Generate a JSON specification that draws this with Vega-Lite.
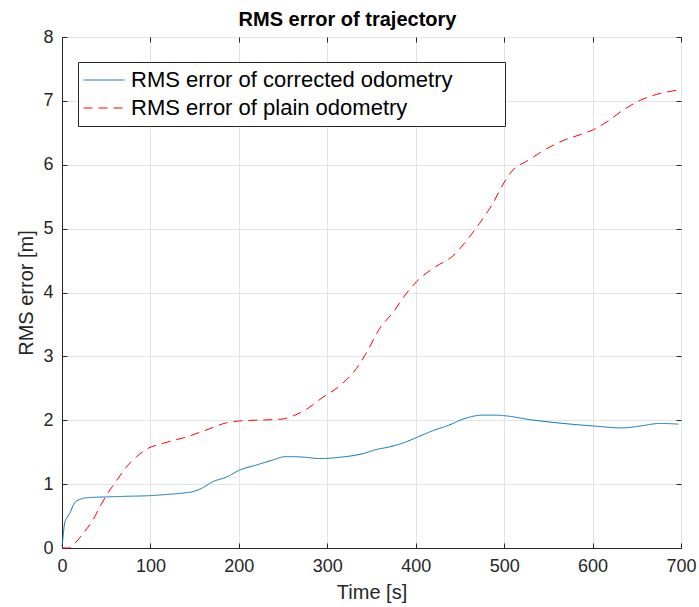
{
  "$schema": "https://vega.github.io/schema/vega-lite/v6.json",
  "autosize": "none",
  "width": 619,
  "height": 511,
  "padding": {"left": 62, "top": 37, "right": 18, "bottom": 59},
  "background": "white",
  "title": {"text": "RMS error of trajectory", "font": "Liberation Sans", "fontSize": 20, "fontWeight": "bold", "color": "black", "anchor": "middle", "dx": -24, "offset": -2},
  "config": {
    "font": "Liberation Sans",
    "view": {"stroke": "#262626", "strokeWidth": 1},
    "axis": {"labelFont": "Liberation Sans", "titleFont": "Liberation Sans", "labelFontSize": 18, "titleFontSize": 20, "titleFontWeight": "normal", "labelColor": "#262626", "titleColor": "#262626", "domainColor": "#262626", "tickColor": "#262626", "gridColor": "#e3e3e3", "gridOpacity": 1, "tickSize": -5, "labelFlush": false}
  },
  "data": {"values": [
    {"t": 0, "rms": 0.03, "series": "RMS error of corrected odometry"},
    {"t": 1, "rms": 0.15, "series": "RMS error of corrected odometry"},
    {"t": 3, "rms": 0.39, "series": "RMS error of corrected odometry"},
    {"t": 6, "rms": 0.48, "series": "RMS error of corrected odometry"},
    {"t": 9, "rms": 0.55, "series": "RMS error of corrected odometry"},
    {"t": 12.8, "rms": 0.67, "series": "RMS error of corrected odometry"},
    {"t": 15, "rms": 0.72, "series": "RMS error of corrected odometry"},
    {"t": 18.5, "rms": 0.75, "series": "RMS error of corrected odometry"},
    {"t": 25, "rms": 0.78, "series": "RMS error of corrected odometry"},
    {"t": 31.7, "rms": 0.79, "series": "RMS error of corrected odometry"},
    {"t": 50, "rms": 0.8, "series": "RMS error of corrected odometry"},
    {"t": 75, "rms": 0.81, "series": "RMS error of corrected odometry"},
    {"t": 100, "rms": 0.82, "series": "RMS error of corrected odometry"},
    {"t": 120, "rms": 0.84, "series": "RMS error of corrected odometry"},
    {"t": 137, "rms": 0.86, "series": "RMS error of corrected odometry"},
    {"t": 150, "rms": 0.89, "series": "RMS error of corrected odometry"},
    {"t": 160, "rms": 0.95, "series": "RMS error of corrected odometry"},
    {"t": 171, "rms": 1.04, "series": "RMS error of corrected odometry"},
    {"t": 186, "rms": 1.11, "series": "RMS error of corrected odometry"},
    {"t": 201, "rms": 1.22, "series": "RMS error of corrected odometry"},
    {"t": 220, "rms": 1.3, "series": "RMS error of corrected odometry"},
    {"t": 239, "rms": 1.38, "series": "RMS error of corrected odometry"},
    {"t": 252, "rms": 1.43, "series": "RMS error of corrected odometry"},
    {"t": 262, "rms": 1.43, "series": "RMS error of corrected odometry"},
    {"t": 275, "rms": 1.42, "series": "RMS error of corrected odometry"},
    {"t": 292, "rms": 1.4, "series": "RMS error of corrected odometry"},
    {"t": 314, "rms": 1.42, "series": "RMS error of corrected odometry"},
    {"t": 341, "rms": 1.48, "series": "RMS error of corrected odometry"},
    {"t": 355, "rms": 1.54, "series": "RMS error of corrected odometry"},
    {"t": 371, "rms": 1.585, "series": "RMS error of corrected odometry"},
    {"t": 385, "rms": 1.64, "series": "RMS error of corrected odometry"},
    {"t": 401, "rms": 1.73, "series": "RMS error of corrected odometry"},
    {"t": 420, "rms": 1.84, "series": "RMS error of corrected odometry"},
    {"t": 437, "rms": 1.92, "series": "RMS error of corrected odometry"},
    {"t": 454, "rms": 2.02, "series": "RMS error of corrected odometry"},
    {"t": 476, "rms": 2.08, "series": "RMS error of corrected odometry"},
    {"t": 490, "rms": 2.08, "series": "RMS error of corrected odometry"},
    {"t": 501, "rms": 2.07, "series": "RMS error of corrected odometry"},
    {"t": 529, "rms": 2.01, "series": "RMS error of corrected odometry"},
    {"t": 567, "rms": 1.95, "series": "RMS error of corrected odometry"},
    {"t": 601, "rms": 1.91, "series": "RMS error of corrected odometry"},
    {"t": 633, "rms": 1.88, "series": "RMS error of corrected odometry"},
    {"t": 654, "rms": 1.91, "series": "RMS error of corrected odometry"},
    {"t": 676, "rms": 1.95, "series": "RMS error of corrected odometry"},
    {"t": 697, "rms": 1.94, "series": "RMS error of corrected odometry"},
    {"t": 0, "rms": 0, "series": "RMS error of plain odometry"},
    {"t": 7, "rms": 0, "series": "RMS error of plain odometry"},
    {"t": 12.8, "rms": 0.05, "series": "RMS error of plain odometry"},
    {"t": 24, "rms": 0.23, "series": "RMS error of plain odometry"},
    {"t": 35, "rms": 0.44, "series": "RMS error of plain odometry"},
    {"t": 43, "rms": 0.65, "series": "RMS error of plain odometry"},
    {"t": 50.5, "rms": 0.83, "series": "RMS error of plain odometry"},
    {"t": 62, "rms": 1.06, "series": "RMS error of plain odometry"},
    {"t": 73, "rms": 1.27, "series": "RMS error of plain odometry"},
    {"t": 84.5, "rms": 1.43, "series": "RMS error of plain odometry"},
    {"t": 96, "rms": 1.55, "series": "RMS error of plain odometry"},
    {"t": 114.5, "rms": 1.64, "series": "RMS error of plain odometry"},
    {"t": 141, "rms": 1.74, "series": "RMS error of plain odometry"},
    {"t": 163.6, "rms": 1.85, "series": "RMS error of plain odometry"},
    {"t": 186, "rms": 1.96, "series": "RMS error of plain odometry"},
    {"t": 201, "rms": 1.99, "series": "RMS error of plain odometry"},
    {"t": 239, "rms": 2.01, "series": "RMS error of plain odometry"},
    {"t": 250, "rms": 2.02, "series": "RMS error of plain odometry"},
    {"t": 261.6, "rms": 2.07, "series": "RMS error of plain odometry"},
    {"t": 275, "rms": 2.16, "series": "RMS error of plain odometry"},
    {"t": 294, "rms": 2.35, "series": "RMS error of plain odometry"},
    {"t": 315, "rms": 2.55, "series": "RMS error of plain odometry"},
    {"t": 333, "rms": 2.81, "series": "RMS error of plain odometry"},
    {"t": 346, "rms": 3.1, "series": "RMS error of plain odometry"},
    {"t": 358, "rms": 3.41, "series": "RMS error of plain odometry"},
    {"t": 375, "rms": 3.7, "series": "RMS error of plain odometry"},
    {"t": 388, "rms": 3.96, "series": "RMS error of plain odometry"},
    {"t": 401, "rms": 4.17, "series": "RMS error of plain odometry"},
    {"t": 422, "rms": 4.4, "series": "RMS error of plain odometry"},
    {"t": 441, "rms": 4.56, "series": "RMS error of plain odometry"},
    {"t": 458, "rms": 4.82, "series": "RMS error of plain odometry"},
    {"t": 472, "rms": 5.08, "series": "RMS error of plain odometry"},
    {"t": 487, "rms": 5.39, "series": "RMS error of plain odometry"},
    {"t": 499, "rms": 5.7, "series": "RMS error of plain odometry"},
    {"t": 510, "rms": 5.92, "series": "RMS error of plain odometry"},
    {"t": 525, "rms": 6.05, "series": "RMS error of plain odometry"},
    {"t": 548, "rms": 6.25, "series": "RMS error of plain odometry"},
    {"t": 567, "rms": 6.38, "series": "RMS error of plain odometry"},
    {"t": 590, "rms": 6.49, "series": "RMS error of plain odometry"},
    {"t": 601, "rms": 6.55, "series": "RMS error of plain odometry"},
    {"t": 616, "rms": 6.67, "series": "RMS error of plain odometry"},
    {"t": 635, "rms": 6.86, "series": "RMS error of plain odometry"},
    {"t": 654, "rms": 7.01, "series": "RMS error of plain odometry"},
    {"t": 672, "rms": 7.1, "series": "RMS error of plain odometry"},
    {"t": 697, "rms": 7.17, "series": "RMS error of plain odometry"}
  ]},
  "resolve": {"axis": {"x": "independent", "y": "independent"}},
  "layer": [
    {
      "mark": {"type": "line", "strokeWidth": 1, "interpolate": "monotone"},
      "encoding": {
        "x": {"field": "t", "type": "quantitative", "scale": {"domain": [0, 700], "nice": false}, "axis": {"title": "Time [s]", "values": [0, 100, 200, 300, 400, 500, 600, 700], "labelPadding": 14, "titlePadding": 7}},
        "y": {"field": "rms", "type": "quantitative", "scale": {"domain": [0, 8], "nice": false}, "axis": {"title": "RMS error [m]", "values": [0, 1, 2, 3, 4, 5, 6, 7, 8], "labelPadding": 14, "titlePadding": 6}},
        "color": {"field": "series", "type": "nominal", "scale": {"domain": ["RMS error of corrected odometry", "RMS error of plain odometry"], "range": ["#0072BD", "#FF0000"]}, "legend": {"title": "\u2800\u2800\u2800", "titleOrient": "right", "titleFontSize": 22, "titlePadding": 0, "orient": "none", "legendX": 16, "legendY": 25, "fillColor": "white", "strokeColor": "#262626", "padding": 4, "labelFontSize": 22, "labelColor": "black", "labelFont": "Liberation Sans", "labelLimit": 0, "symbolType": "stroke", "symbolSize": 1681, "symbolStrokeWidth": 1, "symbolOffset": 1, "labelOffset": 6, "clipHeight": 28, "rowPadding": 0}},
        "strokeDash": {"field": "series", "type": "nominal", "scale": {"domain": ["RMS error of corrected odometry", "RMS error of plain odometry"], "range": [[1, 0], [9, 6]]}, "legend": {"title": "\u2800\u2800\u2800", "orient": "none", "legendX": 16, "legendY": 25}}
      }
    },
    {
      "mark": {"type": "line", "opacity": 0},
      "encoding": {
        "x": {"field": "t", "type": "quantitative", "axis": {"orient": "top", "title": null, "labels": false, "grid": false, "domain": false, "values": [0, 100, 200, 300, 400, 500, 600, 700]}},
        "y": {"field": "rms", "type": "quantitative", "axis": {"orient": "right", "title": null, "labels": false, "grid": false, "domain": false, "values": [0, 1, 2, 3, 4, 5, 6, 7, 8]}}
      }
    }
  ]
}
